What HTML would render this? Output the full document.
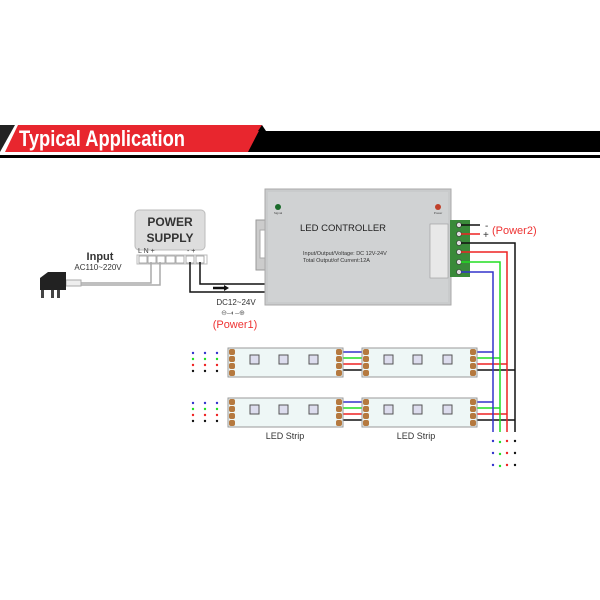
<!DOCTYPE html>
<html><head><meta charset="utf-8"><style>
html,body{margin:0;padding:0;background:#fff}
svg{display:block}
text{font-family:"Liberation Sans",sans-serif}
</style></head><body>
<svg width="600" height="600" viewBox="0 0 600 600" xmlns="http://www.w3.org/2000/svg">
<!-- banner -->
<polygon points="0,152 15,125 0,125" fill="#222"/>
<polygon points="255,131 600,131 600,152 245,152" fill="#000"/>
<polygon points="5,152 18,125 262,125 248,152" fill="#e8262e"/>
<polygon points="262,125 266,131 258,131" fill="#000"/>
<rect x="0" y="155" width="600" height="3" fill="#000"/>
<text x="19" y="146" font-size="22" font-weight="bold" fill="#fff" textLength="166" lengthAdjust="spacingAndGlyphs">Typical Application</text>

<!-- power supply -->
<rect x="135" y="210" width="70" height="40" rx="4" fill="#ddd" stroke="#bbb"/>
<text x="170" y="226" font-size="12" font-weight="bold" text-anchor="middle" fill="#333">POWER</text>
<text x="170" y="242" font-size="12" font-weight="bold" text-anchor="middle" fill="#333">SUPPLY</text>
<text x="138" y="253" font-size="7" fill="#444">L  N  +</text>
<text x="187" y="253" font-size="7" fill="#444">-   +</text>
<rect x="137" y="255" width="70" height="9" fill="#fff" stroke="#bbb"/>
<g fill="#fff" stroke="#999" stroke-width="0.8">
<rect x="139" y="256" width="8" height="7"/><rect x="148" y="256" width="8" height="7"/><rect x="157" y="256" width="8" height="7"/><rect x="166" y="256" width="9" height="7"/><rect x="176" y="256" width="8" height="7"/><rect x="186" y="256" width="8" height="7"/><rect x="196" y="256" width="8" height="7"/>
</g>
<!-- input -->
<text x="100" y="260" font-size="11" font-weight="bold" fill="#333" text-anchor="middle">Input</text>
<text x="98" y="270" font-size="8" fill="#333" text-anchor="middle">AC110~220V</text>
<path d="M80,283 H151 V262 M80,285 H160 V262" stroke="#aaa" fill="none" stroke-width="1.5"/>
<rect x="66" y="280" width="15" height="6" fill="#eee" stroke="#aaa"/>
<polygon points="40,278 48,272 66,272 66,290 40,290" fill="#222"/>
<rect x="41" y="290" width="3" height="8" fill="#444"/><rect x="51" y="290" width="3" height="8" fill="#444"/><rect x="57" y="290" width="3" height="8" fill="#444"/>

<!-- DC wires -->
<path d="M200,262 V284 H266 M190,262 V292 H266" stroke="#111" fill="none" stroke-width="1.5"/>
<path d="M213,288 H225" stroke="#111" stroke-width="2.5"/>
<polygon points="224,285 229,288 224,291" fill="#111"/>
<text x="236" y="305" font-size="8" fill="#333" text-anchor="middle">DC12~24V</text>
<text x="233" y="315" font-size="7" fill="#666" text-anchor="middle">⊖–◐–⊕</text>
<text x="235" y="328" font-size="11" fill="#e33" text-anchor="middle">(Power1)</text>

<!-- controller -->
<rect x="256" y="220" width="12" height="50" fill="#ccc" stroke="#999"/>
<rect x="260" y="230" width="5" height="28" fill="#fff" stroke="#aaa"/>
<rect x="265" y="189" width="186" height="116" fill="#c9cbcc" stroke="#aaa"/>
<rect x="268" y="192" width="180" height="110" fill="#d0d2d3"/>
<circle cx="278" cy="207" r="3" fill="#1a6a2a"/>
<text x="278" y="214" font-size="3" text-anchor="middle" fill="#444">Signal</text>
<circle cx="438" cy="207" r="3" fill="#c0402a"/>
<text x="438" y="214" font-size="3" text-anchor="middle" fill="#444">Power</text>
<text x="300" y="231" font-size="9.5" fill="#222">LED CONTROLLER</text>
<text x="303" y="255" font-size="5.5" fill="#333">Input/Output/Voltage: DC 12V-24V</text>
<text x="303" y="262" font-size="5.5" fill="#333">Total Output/of Current:12A</text>
<rect x="430" y="224" width="18" height="54" fill="#e8e8e8" stroke="#999" stroke-width="0.6"/>
<rect x="450" y="220" width="20" height="57" fill="#3a8a3a"/>
<g fill="#ddd" stroke="#333" stroke-width="0.6">
<circle cx="459" cy="225" r="2.5"/><circle cx="459" cy="234" r="2.5"/><circle cx="459" cy="243" r="2.5"/><circle cx="459" cy="252" r="2.5"/><circle cx="459" cy="262" r="2.5"/><circle cx="459" cy="272" r="2.5"/>
</g>
<!-- power2 -->
<path d="M461,225 H480" stroke="#111" stroke-width="1.5"/>
<path d="M461,234 H480" stroke="#e22" stroke-width="1.5"/>
<text x="485" y="229" font-size="10" fill="#333">-</text>
<text x="483" y="238" font-size="10" fill="#333">+</text>
<text x="492" y="234" font-size="11" fill="#e33">(Power2)</text>

<!-- output wires -->
<g fill="none" stroke-width="1.5">
<path d="M461,243 H515 V432 M476,370 H515 M476,420 H515" stroke="#111"/>
<path d="M461,252 H507 V432 M476,364 H507 M476,414 H507" stroke="#e22"/>
<path d="M461,262 H500 V432 M476,358 H500 M476,408 H500" stroke="#2d2"/>
<path d="M461,272 H493 V432 M476,352 H493 M476,402 H493" stroke="#33c"/>
<path d="M343,352 H362 M343,402 H362" stroke="#33c"/>
<path d="M343,358 H362 M343,408 H362" stroke="#2d2"/>
<path d="M343,364 H362 M343,414 H362" stroke="#e22"/>
<path d="M343,370 H362 M343,420 H362" stroke="#111"/>
</g>

<!-- strips -->
<g id="s">
<rect x="228" y="348" width="115" height="29" fill="#eef7f6" stroke="#999"/>
<g fill="#b5793f"><rect x="229" y="349" width="6" height="6" rx="2"/><rect x="229" y="356" width="6" height="6" rx="2"/><rect x="229" y="363" width="6" height="6" rx="2"/><rect x="229" y="370" width="6" height="6" rx="2"/>
<rect x="336" y="349" width="6" height="6" rx="2"/><rect x="336" y="356" width="6" height="6" rx="2"/><rect x="336" y="363" width="6" height="6" rx="2"/><rect x="336" y="370" width="6" height="6" rx="2"/></g>
<g fill="#dde" stroke="#555"><rect x="250" y="355" width="9" height="9"/><rect x="279" y="355" width="9" height="9"/><rect x="309" y="355" width="9" height="9"/></g>
</g>
<use href="#s" x="134"/>
<use href="#s" y="50"/>
<use href="#s" x="134" y="50"/>
<text x="285" y="439" font-size="9" text-anchor="middle" fill="#333">LED Strip</text>
<text x="416" y="439" font-size="9" text-anchor="middle" fill="#333">LED Strip</text>

<!-- dots -->
<g>
<g fill="#33c"><circle cx="193" cy="353" r="1.2"/><circle cx="205" cy="353" r="1.2"/><circle cx="217" cy="353" r="1.2"/><circle cx="193" cy="403" r="1.2"/><circle cx="205" cy="403" r="1.2"/><circle cx="217" cy="403" r="1.2"/></g>
<g fill="#2d2"><circle cx="193" cy="359" r="1.2"/><circle cx="205" cy="359" r="1.2"/><circle cx="217" cy="359" r="1.2"/><circle cx="193" cy="409" r="1.2"/><circle cx="205" cy="409" r="1.2"/><circle cx="217" cy="409" r="1.2"/></g>
<g fill="#e22"><circle cx="193" cy="365" r="1.2"/><circle cx="205" cy="365" r="1.2"/><circle cx="217" cy="365" r="1.2"/><circle cx="193" cy="415" r="1.2"/><circle cx="205" cy="415" r="1.2"/><circle cx="217" cy="415" r="1.2"/></g>
<g fill="#111"><circle cx="193" cy="371" r="1.2"/><circle cx="205" cy="371" r="1.2"/><circle cx="217" cy="371" r="1.2"/><circle cx="193" cy="421" r="1.2"/><circle cx="205" cy="421" r="1.2"/><circle cx="217" cy="421" r="1.2"/></g>
<g fill="#33c"><circle cx="493" cy="441" r="1.2"/><circle cx="493" cy="453" r="1.2"/><circle cx="493" cy="465" r="1.2"/></g>
<g fill="#2d2"><circle cx="500" cy="442" r="1.2"/><circle cx="500" cy="454" r="1.2"/><circle cx="500" cy="466" r="1.2"/></g>
<g fill="#e22"><circle cx="507" cy="441" r="1.2"/><circle cx="507" cy="453" r="1.2"/><circle cx="507" cy="465" r="1.2"/></g>
<g fill="#111"><circle cx="515" cy="441" r="1.2"/><circle cx="515" cy="453" r="1.2"/><circle cx="515" cy="465" r="1.2"/></g>
</g>
</svg>
</body></html>
